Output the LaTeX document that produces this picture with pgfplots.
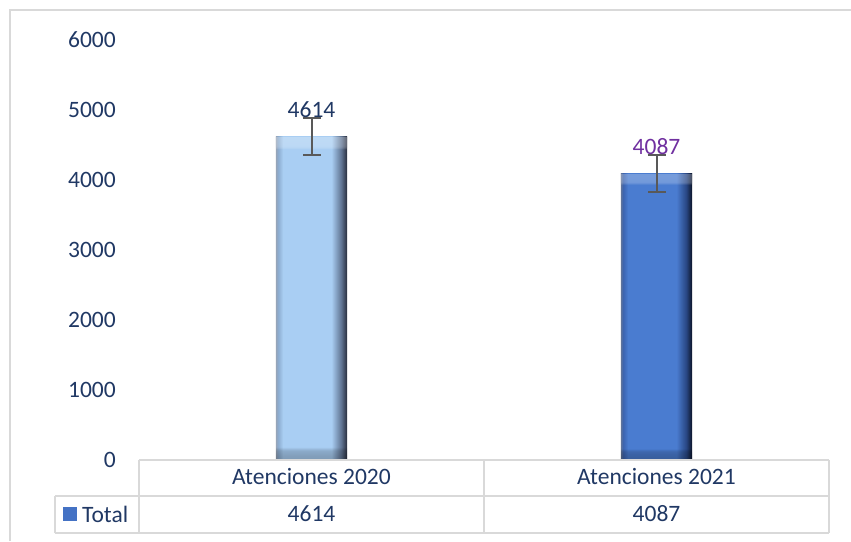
\documentclass[border=0pt]{standalone}
\usepackage{pgfplots}
\pgfplotsset{compat=1.18}
\usetikzlibrary{fadings}
\usepackage{fontspec}
\setmainfont{Carlito}
\definecolor{navy}{RGB}{32,56,100}
\definecolor{purp}{RGB}{112,48,160}
\definecolor{gridc}{RGB}{217,217,217}
\definecolor{keyc}{RGB}{68,114,196}
\definecolor{ebar}{RGB}{89,89,89}
% bar 1 shading
\definecolor{aL}{RGB}{150,165,185}
\definecolor{aL2}{RGB}{140,172,208}
\definecolor{aM}{RGB}{169,206,243}
\definecolor{aR}{RGB}{95,115,145}
\definecolor{aD}{RGB}{40,45,60}
\pgfdeclarehorizontalshading{barone}{100bp}{color(0bp)=(aL); color(25bp)=(aL); color(26.5bp)=(aL2); color(30bp)=(aM); color(64bp)=(aM); color(71bp)=(aR); color(75bp)=(aD); color(100bp)=(aD)}
% bar 2 shading
\definecolor{bL}{RGB}{95,115,155}
\definecolor{bL2}{RGB}{60,100,175}
\definecolor{bM}{RGB}{74,124,208}
\definecolor{bR}{RGB}{40,70,130}
\definecolor{bD}{RGB}{12,20,40}
\pgfdeclarehorizontalshading{bartwo}{100bp}{color(0bp)=(bL); color(25bp)=(bL); color(26.5bp)=(bL2); color(30bp)=(bM); color(64bp)=(bM); color(71bp)=(bR); color(75bp)=(bD); color(100bp)=(bD)}
% bevel fadings (white = opaque, black = transparent)
\pgfdeclareverticalshading{topbevsh}{100bp}{color(0bp)=(black); color(73bp)=(black); color(73.5bp)=(white!35!black); color(75bp)=(white!55!black); color(100bp)=(white!55!black)}
\pgfdeclarefading{topbev}{\pgfuseshading{topbevsh}}
\pgfdeclareverticalshading{botbevsh}{100bp}{color(0bp)=(white!45!black); color(25bp)=(white!45!black); color(26.5bp)=(white!20!black); color(27bp)=(black); color(100bp)=(black)}
\pgfdeclarefading{botbev}{\pgfuseshading{botbevsh}}
\newcommand\cf{\fontsize{23.5pt}{28pt}\selectfont}
\begin{document}
\begin{tikzpicture}[x=1pt,y=1pt]
\path[use as bounding box] (0,0) rectangle (851,541);
% outer chart border
\draw[gridc, line width=2pt] (10,0) -- (10,531) -- (851,531);
\begin{axis}[
  at={(139pt,81.5pt)}, anchor=south west,
  scale only axis, width=690pt, height=419.5pt,
  xmin=0, xmax=2, ymin=0, ymax=6000,
  enlargelimits=false, clip=false,
  axis line style={draw=none},
  xtick=\empty,
  ytick={0,1000,...,6000},
  major tick length=0pt,
  scaled y ticks=false,
  /pgf/number format/1000 sep={},
  /pgf/number format/assume math mode=true,
  yticklabel style={font=\cf, text=navy, anchor=east, inner sep=0pt, xshift=-23pt},
  ybar, bar width=0.206, bar shift=0pt,
  nodes near coords,
  every node near coord/.append style={font=\cf, anchor=base, inner sep=0pt, yshift=19.5pt},
  error bars/y dir=both, error bars/y explicit,
  error bars/error bar style={line width=2pt, color=ebar},
  error bars/error mark options={rotate=90, mark size=9pt, line width=2pt, color=ebar},
]
\addplot[draw=none, shade, shading=barone,
  postaction={fill=white, path fading=topbev},
  postaction={fill=black, path fading=botbev},
  nodes near coords style={text=navy}]
  coordinates {(0.5,4614) +- (0,263.5)};
\addplot[draw=none, shade, shading=bartwo,
  postaction={fill=white, path fading=topbev},
  postaction={fill=black, path fading=botbev},
  nodes near coords style={text=purp}]
  coordinates {(1.5,4087) +- (0,263.5)};
\end{axis}
% data table
\begin{scope}[gridc, line width=2pt]
\draw (139,81.5) -- (829,81.5);
\draw (55,45.5) -- (829,45.5);
\draw (55,8) -- (829,8);
\draw (55,8) -- (55,45.5);
\draw (139,8) -- (139,81.5);
\draw (484,8) -- (484,81.5);
\draw (829,8) -- (829,81.5);
\end{scope}
\fill[keyc] (63,20) rectangle (77,34);
\node[font=\cf, text=navy, anchor=west, inner sep=0pt] at (82,27) {Total};
\node[font=\cf, text=navy] at (311.5,64) {Atenciones 2020};
\node[font=\cf, text=navy] at (656.5,64) {Atenciones 2021};
\node[font=\cf, text=navy] at (311.5,27) {4614};
\node[font=\cf, text=navy] at (656.5,27) {4087};
\end{tikzpicture}
\end{document}
